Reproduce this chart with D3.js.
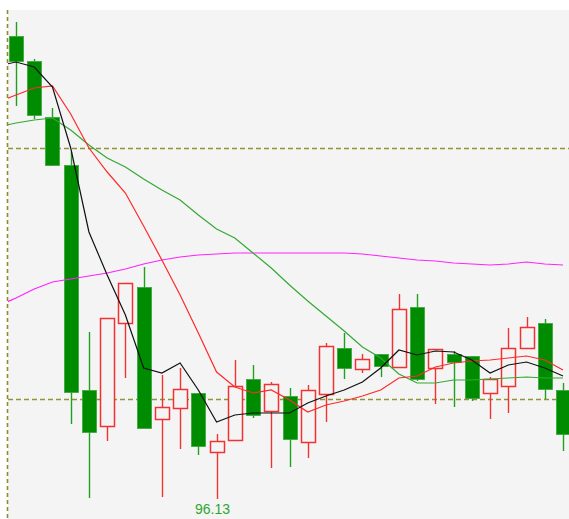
<!DOCTYPE html>
<html>
<head>
<meta charset="utf-8">
<script src="https://cdn.jsdelivr.net/npm/d3@7"></script>
<style>
  body { margin: 0; background: #fff; }
  svg { display: block; }
</style>
</head>
<body>
<div id="chart"></div>
<script>
// daily candles: open, high, low, close
const opens  = [105.39, 104.89, 103.77, 102.81, 98.31, 97.59, 99.65, 100.37, 97.73, 97.95, 98.25, 97.07, 97.31, 98.53, 97.89, 98.19, 97.27, 98.23, 99.15, 98.73, 99.03, 98.77, 99.97, 98.75, 99.03, 98.99, 98.25, 98.39, 99.15, 99.65, 98.31]
const highs  = [105.67, 104.93, 103.95, 103.07, 99.47, 99.75, 100.45, 100.77, 98.61, 98.75, 98.25, 97.43, 98.91, 98.81, 98.47, 98.35, 98.41, 99.25, 99.45, 99.03, 99.03, 100.23, 100.23, 99.13, 99.09, 98.99, 98.57, 99.55, 99.77, 99.73, 98.45]
const lows   = [103.99, 103.73, 102.79, 97.63, 96.15, 97.29, 98.55, 97.55, 96.17, 97.13, 97.01, 96.13, 97.31, 97.75, 96.75, 96.77, 96.95, 97.67, 98.53, 98.65, 98.57, 98.77, 98.49, 98.03, 97.97, 98.09, 97.73, 97.85, 99.15, 98.13, 97.09]
const closes = [104.89, 103.81, 102.81, 98.27, 97.47, 99.75, 100.45, 97.55, 97.97, 98.33, 97.19, 97.29, 98.39, 97.81, 98.43, 97.33, 98.31, 99.19, 98.75, 98.93, 98.79, 99.93, 98.53, 99.13, 98.87, 98.15, 98.53, 99.15, 99.57, 98.33, 97.43]

// moving averages, first value is the day before the first candle
const ma5  = [104.79, 104.87, 104.77, 104.37, 103.15, 101.47, 100.61, 99.81, 98.75, 98.65, 98.85, 98.31, 97.67, 97.81, 97.85, 97.85, 97.85, 98.05, 98.19, 98.31, 98.47, 98.75, 99.11, 99.01, 99.09, 99.07, 98.91, 98.65, 98.81, 98.87, 98.75, 98.59]
const ma10 = [104.07, 104.21, 104.35, 104.39, 103.83, 103.15, 102.67, 102.25, 101.59, 100.91, 100.21, 99.45, 98.67, 98.37, 98.25, 98.31, 98.11, 97.87, 98.01, 98.09, 98.19, 98.31, 98.55, 98.59, 98.77, 98.85, 98.89, 98.91, 98.95, 98.99, 98.91, 98.71]
const ma20 = [103.57, 103.65, 103.71, 103.75, 103.51, 103.21, 102.95, 102.77, 102.53, 102.31, 102.11, 101.81, 101.53, 101.35, 101.05, 100.75, 100.41, 100.09, 99.79, 99.49, 99.17, 98.95, 98.63, 98.45, 98.45, 98.51, 98.51, 98.53, 98.55, 98.57, 98.55, 98.55]
const ma60 = [99.99, 100.15, 100.33, 100.47, 100.53, 100.59, 100.65, 100.73, 100.83, 100.91, 100.97, 101.01, 101.03, 101.05, 101.05, 101.05, 101.05, 101.05, 101.05, 101.05, 101.03, 100.99, 100.95, 100.91, 100.89, 100.85, 100.83, 100.81, 100.83, 100.87, 100.83, 100.81]

// dashed reference levels
const levels = [103.15, 98.13]

const params = {
  width: 569,
  height: 519,
  plotLeft: 8,
  plotTop: 10,
  bodyWidth: 14,
}

const svg = d3.select('#chart')
  .append('svg')
  .attr('width', params.width)
  .attr('height', params.height)

svg.append('rect')
  .attr('x', params.plotLeft)
  .attr('y', params.plotTop)
  .attr('width', params.width - params.plotLeft)
  .attr('height', params.height - params.plotTop)
  .attr('fill', '#f4f4f4')

svg.append('clipPath').attr('id', 'plot-clip')
  .append('rect')
  .attr('x', params.plotLeft)
  .attr('y', params.plotTop)
  .attr('width', params.width - params.plotLeft)
  .attr('height', params.height - params.plotTop)

const x = d3.scaleLinear().domain([0, 30]).range([16, 563])
const y = d3.scaleLinear().domain([96.13, 106.11]).range([499, 0])

const plot = svg.append('g').attr('clip-path', 'url(#plot-clip)')

// reference levels
plot.selectAll('.level')
  .data(levels)
  .enter()
  .append('line')
  .attr('x1', params.plotLeft)
  .attr('x2', params.width)
  .attr('y1', d => Math.round(y(d)) + 0.5)
  .attr('y2', d => Math.round(y(d)) + 0.5)
  .attr('stroke', '#929238')
  .attr('stroke-width', 1.6)
  .attr('stroke-dasharray', '5,3')

const candles = opens.map((o, i) => ({ i: i, open: o, high: highs[i], low: lows[i], close: closes[i] }))
const up = d => d.close >= d.open

// wicks
plot.selectAll('.wick')
  .data(candles)
  .enter()
  .append('line')
  .attr('x1', d => Math.round(x(d.i)) + 0.5)
  .attr('x2', d => Math.round(x(d.i)) + 0.5)
  .attr('y1', d => y(d.high))
  .attr('y2', d => y(d.low))
  .attr('stroke', d => up(d) ? '#f23232' : '#1fa01f')
  .attr('stroke-width', 1.4)

// bodies
plot.selectAll('.body')
  .data(candles)
  .enter()
  .append('rect')
  .attr('x', d => Math.round(x(d.i)) - 6.5)
  .attr('y', d => Math.round(y(Math.max(d.open, d.close))) + 0.5)
  .attr('width', params.bodyWidth)
  .attr('height', d => Math.max(1, Math.round(Math.abs(y(d.open) - y(d.close)))))
  .attr('fill', d => up(d) ? '#f4f4f4' : '#008c00')
  .attr('stroke', d => up(d) ? '#f23232' : '#3aa63a')
  .attr('stroke-width', d => up(d) ? 1.5 : 0.8)

// moving average lines
const line = d3.line()
  .x((d, i) => x(i - 1))
  .y(d => y(d))

const averages = [
  { values: ma60, color: '#ff22ff' },
  { values: ma20, color: '#33a833' },
  { values: ma10, color: '#ff2a2a' },
  { values: ma5, color: '#111111' },
]

plot.selectAll('.ma')
  .data(averages)
  .enter()
  .append('path')
  .attr('d', d => line(d.values))
  .attr('fill', 'none')
  .attr('stroke', d => d.color)
  .attr('stroke-width', 1.2)

// left dashed border
svg.append('line')
  .attr('x1', 7.5)
  .attr('x2', 7.5)
  .attr('y1', params.plotTop)
  .attr('y2', params.height)
  .attr('stroke', '#8c8c28')
  .attr('stroke-width', 1.6)
  .attr('stroke-dasharray', '4,3')

// lowest price label
const lowIndex = d3.minIndex(lows)
svg.append('text')
  .attr('x', x(lowIndex) - 4)
  .attr('y', 514)
  .attr('text-anchor', 'middle')
  .attr('fill', '#2ea62e')
  .style('font-family', 'Liberation Sans, Arial, sans-serif')
  .style('font-size', '14px')
  .text(d3.format('.2f')(lows[lowIndex]))
</script>
</body>
</html>
